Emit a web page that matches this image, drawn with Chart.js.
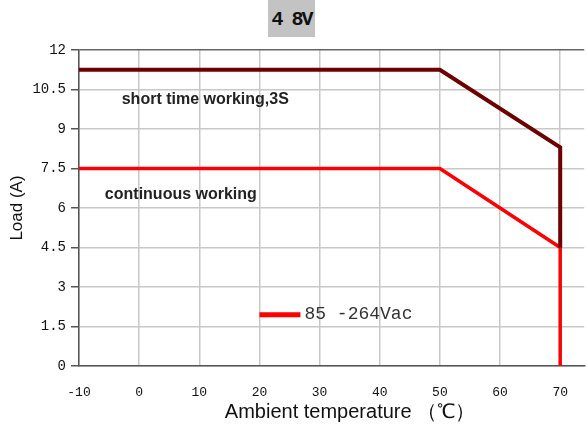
<!DOCTYPE html>
<html>
<head>
<meta charset="utf-8">
<script src="https://cdn.jsdelivr.net/npm/chart.js@4.4.1/dist/chart.umd.min.js"></script>
<style>
  html, body { margin: 0; padding: 0; background: #fff; }
  #wrap { position: relative; width: 587px; height: 428px; }
  #title {
    position: absolute; left: 268px; top: 0; width: 47px; height: 37px;
    background: #c3c3c3; color: #111;
    font: bold 20px "Liberation Mono", "DejaVu Sans Mono", monospace;
    line-height: 40px; text-align: center; letter-spacing: -2px;
  }
</style>
</head>
<body>
<div id="wrap">
  <canvas id="chart"></canvas>
  <div id="title">4 8V</div>
</div>
<script>
// derating curve, 48V model
var tempShort = [-10, 50, 70, 70];
var loadShort = [11.25, 11.25, 8.3, 4.5];
var tempCont  = [-10, 50, 70, 70];
var loadCont  = [7.5, 7.5, 4.5, 0];

var xTicks = [-10, 0, 10, 20, 30, 40, 50, 60, 70];
var yTicks = [0, 1.5, 3, 4.5, 6, 7.5, 9, 10.5, 12];

var legendLabel = '85 -264Vac';

function pts(xs, ys) {
  return xs.map(function(x, i) { return { x: x, y: ys[i] }; });
}

// labels inside the plot, placed in data coordinates
var notes = [
  { text: 'short time working,3S', x: -2.9, y: 10.1 },
  { text: 'continuous working', x: -5.7, y: 6.5 }
];

var textPlugin = {
  id: 'extraText',
  afterDraw: function(chart) {
    var c = chart.ctx;
    var xs = chart.scales.x, ys = chart.scales.y;
    c.save();
    c.fillStyle = '#222';
    c.font = 'bold 16px "Liberation Sans", Arial, sans-serif';
    c.textBaseline = 'middle';
    c.textAlign = 'left';
    notes.forEach(function(n) {
      c.fillText(n.text, xs.getPixelForValue(n.x), ys.getPixelForValue(n.y));
    });

    // legend
    var lx = xs.getPixelForValue(20), ly = ys.getPixelForValue(1.95);
    c.strokeStyle = '#ff0000';
    c.lineWidth = 5;
    c.beginPath();
    c.moveTo(lx, ly);
    c.lineTo(lx + 41, ly);
    c.stroke();
    c.fillStyle = '#333';
    c.font = '18px "Liberation Mono", "DejaVu Sans Mono", monospace';
    c.fillText(legendLabel, lx + 45, ly);

    // x axis title
    c.fillStyle = '#111';
    c.font = '20px "Liberation Sans", Arial, sans-serif';
    c.textAlign = 'center';
    c.fillText('Ambient temperature （℃）', 350, 412);
    c.restore();
  }
};

new Chart(document.getElementById('chart'), {
  type: 'line',
  data: {
    datasets: [
      { label: 'short', data: pts(tempShort, loadShort), borderColor: '#6e0000', borderWidth: 4, pointRadius: 0, tension: 0, fill: false },
      { label: 'cont', data: pts(tempCont, loadCont), borderColor: '#ff0000', borderWidth: 3.5, pointRadius: 0, tension: 0, fill: false }
    ]
  },
  options: {
    responsive: true, maintainAspectRatio: false, animation: false,
    layout: { padding: { top: 50, right: 0, left: 0, bottom: 0 } },
    plugins: { legend: { display: false }, tooltip: { enabled: false } },
    scales: {
      x: {
        type: 'linear', min: -10, max: 74,
        afterBuildTicks: function(s) { s.ticks = xTicks.map(function(v) { return { value: v }; }); },
        afterFit: function(s) { s.height = 62; },
        grid: { color: '#c8c8c8', lineWidth: 1.5, drawTicks: false },
        border: { color: '#555', width: 1.5 },
        ticks: { color: '#111', padding: 19, maxRotation: 0, font: { family: '"Liberation Mono", monospace', size: 13 } }
      },
      y: {
        type: 'linear', min: 0, max: 12,
        afterBuildTicks: function(s) { s.ticks = yTicks.map(function(v) { return { value: v }; }); },
        afterFit: function(s) { s.width = 79; },
        grid: {
          color: function(ctx) { return ctx.tick && ctx.tick.value === 12 ? '#666' : '#c8c8c8'; },
          lineWidth: 1.5, tickLength: 8, tickColor: '#555'
        },
        border: { color: '#555', width: 1.5 },
        ticks: { color: '#111', padding: 5, font: { family: '"Liberation Mono", monospace', size: 14 } },
        title: { display: true, text: 'Load (A)', color: '#111', padding: { top: 7, bottom: 0 }, font: { family: '"Liberation Sans", Arial, sans-serif', size: 17 } }
      }
    }
  },
  plugins: [textPlugin]
});
</script>
</body>
</html>
